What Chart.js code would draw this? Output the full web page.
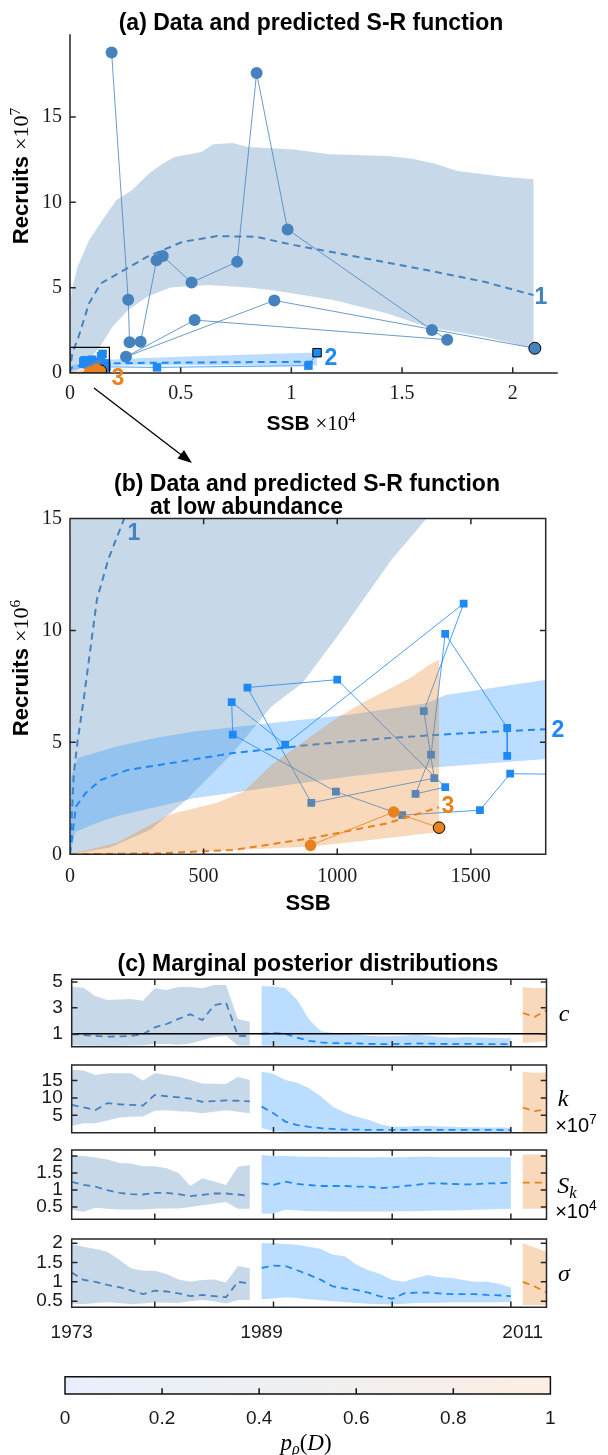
<!DOCTYPE html>
<html>
<head>
<meta charset="utf-8">
<script src="https://cdn.jsdelivr.net/npm/chart.js@4.4.1/dist/chart.umd.min.js"></script>
<style>
  body { margin: 0; background: #fff; }
  #fig { position: relative; width: 608px; height: 1455px; overflow: hidden; background: #fff; }
  #fig canvas { position: absolute; left: 0; z-index: 1; }
  #fig svg { position: absolute; left: 0; top: 0; z-index: 2; }
  .tx { position: absolute; z-index: 3; white-space: nowrap; line-height: 1; transform: translate(-50%, -50%);
        color: #000; font-family: "Liberation Sans", Arial, sans-serif; }
  .b { font-weight: bold; }
  .ser { font-family: "Liberation Serif", "DejaVu Serif", serif; font-weight: normal; }
  .it { font-style: italic; }
  .rot { transform: translate(-50%, -50%) rotate(-90deg); }
  sup { font-size: 70%; vertical-align: 0.55em; line-height: 0; }
  sub { font-size: 70%; vertical-align: -0.3em; line-height: 0; }
</style>
</head>
<body>
<div id="fig">
  <svg width="608" height="1455">
    <line x1="94" y1="388" x2="184" y2="457" stroke="#000" stroke-width="1.3"/>
    <polygon points="192,463 177.5,458.5 184,450" fill="#000"/>
  </svg>

  <div class="tx b" style="left:311px;top:22px;font-size:23px">(a) Data and predicted S-R function</div>
  <div class="tx rot" style="left:21px;top:176px;font-size:22px"><span class="b">Recruits</span> <span class="ser">×10<sup>7</sup></span></div>
  <div class="tx" style="left:311px;top:423px;font-size:21px"><span class="b">SSB</span> <span class="ser">×10<sup>4</sup></span></div>
  <div class="tx b" style="left:541px;top:296px;font-size:23px;color:#4682be">1</div>
  <div class="tx b" style="left:331px;top:357px;font-size:23px;color:#1e88f5">2</div>
  <div class="tx b" style="left:118px;top:377px;font-size:23px;color:#e8821e">3</div>

  <div class="tx b" style="left:307px;top:483px;font-size:23px">(b) Data and predicted S-R function</div>
  <div class="tx b" style="left:150px;top:506px;font-size:23px;transform:translate(0,-50%)">at low abundance</div>
  <div class="tx rot" style="left:21px;top:668px;font-size:22px"><span class="b">Recruits</span> <span class="ser">×10<sup>6</sup></span></div>
  <div class="tx b" style="left:308px;top:903px;font-size:22px">SSB</div>
  <div class="tx b" style="left:134px;top:532px;font-size:23px;color:#4682be">1</div>
  <div class="tx b" style="left:558px;top:729px;font-size:23px;color:#1e88f5">2</div>
  <div class="tx b" style="left:448px;top:805px;font-size:23px;color:#e8821e">3</div>

  <div class="tx b" style="left:308px;top:963px;font-size:23px">(c) Marginal posterior distributions</div>
  <div class="tx ser it" style="left:564px;top:1013px;font-size:24px">c</div>
  <div class="tx ser it" style="left:563px;top:1098px;font-size:24px">k</div>
  <div class="tx" style="left:576px;top:1125px;font-size:20px">×10<sup>7</sup></div>
  <div class="tx ser it" style="left:567px;top:1185px;font-size:24px">S<sub>k</sub></div>
  <div class="tx" style="left:576px;top:1211px;font-size:20px">×10<sup>4</sup></div>
  <div class="tx ser it" style="left:564px;top:1273px;font-size:24px">σ</div>
  <div class="tx ser" style="left:306px;top:1442px;font-size:23px"><span class="it">p</span><sub class="it">ρ</sub>(<span class="it">D</span>)</div>
</div>

<script>
// ---------- panels (a) and (b): SSB in tonnes, recruits in millions ----------
// regime 1 = 1973-1988, regime 2 = 1989-2010, regime 3 = 2011-2013 (first year has the black edge)
var g1SSB = [21000, 9230, 2530, 5630, 17040, 16350, 9830, 8430, 7550, 5490, 4190, 3910, 3190, 2690, 2630, 1880];
var g1Rec = [14.5, 42.5, 9.5, 31.0, 19.5, 25.2, 84.1, 175.7, 65.1, 53.0, 68.5, 66.1, 18.3, 18.0, 42.9, 187.7];
var g2SSB = [11160, 10770, 3930, 1647, 1534, 1243, 995, 609, 605, 805, 1473, 1324, 1363, 903, 664, 1000, 1404, 1293, 1351, 1404, 1636, 1636];
var g2Rec = [11.9, 4.3, 3.3, 3.6, 1.97, 1.75, 2.8, 5.35, 6.8, 4.9, 11.2, 6.4, 3.4, 2.3, 7.45, 7.8, 3.0, 2.7, 4.45, 9.85, 5.65, 4.4];
var g3SSB = [1381, 1211, 900];
var g3Rec = [1.19, 1.89, 0.40];

// predicted S-R function: median curve and credible band, per regime
var fit1SSB = [0, 14, 29, 51, 101, 144, 203, 340, 860, 1390, 2440, 3490, 5070, 6640, 8390, 10140, 12590, 16100, 18720, 20940];
var fit1Rec = [0, 3.6, 5.1, 6.9, 11.4, 13.2, 15, 19.3, 40.8, 52.5, 60.3, 68.1, 76.8, 80.2, 79.8, 74.9, 69.0, 60.3, 53.4, 45.6];
var hi1SSB = [0, 5, 30, 80, 340, 860, 1570, 2090, 2790, 3580, 4190, 4720, 5940, 6460, 7340, 8040, 10140, 11720, 14340, 15400, 16450, 17500, 19600, 20940];
var hi1Rec = [0, 20, 40, 48.6, 62.2, 77.8, 91.5, 101.2, 107, 117, 122.7, 126.6, 129.5, 134, 134.8, 132.4, 130.9, 128.1, 127.1, 125.6, 122.7, 118.4, 114.9, 113.5];
var lo1SSB = [0, 150, 300, 435, 609, 754, 870, 1000, 1203, 1334, 1920, 2620, 3490, 4540, 6290, 8040, 9090, 11900, 14340, 16100, 18720, 20940];
var lo1Rec = [0, 0.3, 1.1, 2.43, 4.52, 6.6, 7.65, 9.73, 13.16, 15, 27.1, 36.9, 44.7, 50.1, 51.5, 50.1, 48.6, 42.7, 34.9, 27.1, 21.2, 14.5];

var fit2SSB = [0, 22, 58, 116, 217, 391, 609, 899, 1189, 1479, 1783, 3000, 6000, 11160];
var fit2Rec = [0, 2.13, 2.73, 3.32, 3.77, 4.1, 4.52, 4.89, 5.19, 5.41, 5.59, 5.9, 6.2, 6.6];
var hi2SSB = [0, 5, 29, 174, 319, 464, 754, 1044, 1334, 1406, 1783, 3000, 6000, 11160];
var hi2Rec = [0, 3.5, 4.3, 4.81, 5.19, 5.48, 5.86, 6.23, 6.75, 7.12, 7.8, 8.7, 10, 12];
var lo2SSB = [0, 20, 100, 174, 464, 754, 1044, 1334, 1783, 3000, 6000, 11160];
var lo2Rec = [0, 1.0, 1.4, 1.7, 2.5, 3.0, 3.47, 3.85, 4.26, 4.5, 4.5, 4.4];

var fit3SSB = [0, 319, 609, 903, 1189, 1381];
var fit3Rec = [0, 0.04, 0.19, 0.72, 1.39, 2.1];
var hi3SSB = [0, 174, 377, 551, 650, 754, 870, 1000, 1100, 1189, 1276, 1348, 1381];
var hi3Rec = [0, 0.5, 1.8, 2.3, 2.8, 4.0, 5.0, 6.1, 6.8, 7.35, 7.9, 8.5, 8.7];
var lo3SSB = [0, 464, 903, 1100, 1381];
var lo3Rec = [0, 0.1, 0.35, 0.6, 1.0];

// axis ticks
var aTicksX = [0, 0.5, 1, 1.5, 2];          // x10^4
var aTicksY = [0, 5, 10, 15];               // x10^7
var bTicksX = [0, 500, 1000, 1500];
var bTicksY = [0, 5, 10, 15];               // x10^6
var bMaxSSB = 1780, bMaxRec = 15;           // limits of the low-abundance view

// ---------- panel (c): marginal posteriors by year ----------
var yrs1 = [1973, 1974, 1975, 1976, 1977, 1978, 1979, 1980, 1981, 1982, 1983, 1984, 1985, 1986, 1987, 1988];
var yrs2 = [1989, 1990, 1991, 1992, 1993, 1994, 1995, 1996, 1997, 1998, 1999, 2000, 2001, 2002, 2003, 2004, 2005, 2006, 2007, 2008, 2009, 2010];
var yrs3 = [2011, 2012, 2013];
var yearLabels = [1973, 1989, 2011];
var yearTicks = [1980, 1990, 2000, 2010];

// c
var cHi1 = [4.63, 4.55, 3.9, 3.6, 3.65, 3.68, 3.55, 4.5, 4.37, 4.6, 4.6, 4.5, 4.76, 4.76, 2.14, 1.93];
var cMd1 = [0.96, 0.9, 0.83, 0.77, 0.8, 0.83, 0.96, 1.5, 1.75, 2.15, 2.5, 2.05, 3.2, 3.4, 0.85, 0.8];
var cLo1 = [0.12, 0.08, 0.08, 0.06, 0.08, 0.1, 0.12, 0.2, 0.2, 0.15, 0.25, 0.5, 0.75, 0.85, 0.1, 0.1];
var cHi2 = [4.68, 4.65, 4.5, 3.6, 2.1, 1.2, 1.05, 1.0, 0.95, 0.85, 0.8, 0.8, 0.85, 0.95, 0.85, 0.75, 0.7, 0.75, 0.72, 0.7, 0.68, 0.65];
var cMd2 = [1.0, 1.05, 1.0, 0.7, 0.45, 0.33, 0.28, 0.26, 0.25, 0.22, 0.2, 0.2, 0.22, 0.25, 0.24, 0.22, 0.2, 0.22, 0.21, 0.2, 0.2, 0.2];
var cLo2 = [0.1, 0.08, 0.08, 0.07, 0.07, 0.06, 0.06, 0.06, 0.06, 0.06, 0.05, 0.05, 0.05, 0.05, 0.05, 0.05, 0.05, 0.05, 0.05, 0.05, 0.05, 0.05];
var cHi3 = [4.6, 4.5, 4.55];
var cMd3 = [2.6, 2.3, 2.8];
var cLo3 = [0.3, 0.35, 0.45];
var cRef = 1;

// k (x10^7)
var kHi1 = [18.1, 17.9, 16.6, 17.1, 17.1, 17.1, 15.0, 17.1, 16.6, 16.1, 15.2, 14.2, 14.1, 14.0, 16.1, 15.2];
var kMd1 = [8.0, 7.3, 6.5, 8.5, 8.2, 8.0, 7.8, 10.9, 10.5, 10.2, 9.8, 8.9, 9.1, 9.3, 9.2, 9.0];
var kLo1 = [1.9, 2.7, 2.7, 3.5, 4.4, 4.6, 4.7, 6.3, 6.5, 6.2, 6.0, 5.6, 6.0, 6.5, 6.0, 5.6];
var kHi2 = [17.6, 16.9, 15.2, 14.4, 12.8, 10.4, 7.5, 5.8, 4.6, 3.7, 2.4, 1.7, 1.7, 1.9, 2.0, 1.8, 1.7, 1.6, 1.6, 1.5, 1.5, 1.4];
var kMd2 = [7.5, 5.6, 3.2, 2.2, 1.7, 1.3, 1.1, 0.9, 0.9, 0.8, 0.8, 0.8, 0.8, 0.8, 0.8, 0.8, 0.8, 0.8, 0.8, 0.8, 0.8, 0.7];
var kLo2 = [1.3, 0.5, 0.3, 0.2, 0.2, 0.2, 0.2, 0.2, 0.2, 0.2, 0.2, 0.2, 0.2, 0.2, 0.2, 0.2, 0.2, 0.2, 0.2, 0.2, 0.2, 0.2];
var kHi3 = [17.6, 17.2, 17.4];
var kMd3 = [7.2, 6.2, 6.7];
var kLo3 = [0.3, 0.3, 0.3];

// S_k (x10^4)
var sHi1 = [2.0, 2.0, 1.96, 1.9, 1.8, 1.78, 1.7, 1.7, 1.64, 1.5, 1.12, 1.35, 1.25, 1.15, 1.69, 1.74];
var sMd1 = [1.24, 1.15, 1.1, 1.0, 0.92, 0.88, 0.87, 0.92, 0.92, 0.88, 0.82, 0.86, 0.9, 0.9, 0.87, 0.82];
var sLo1 = [0.42, 0.36, 0.48, 0.45, 0.43, 0.43, 0.43, 0.45, 0.46, 0.46, 0.5, 0.55, 0.6, 0.65, 0.45, 0.45];
var sHi2 = [2.03, 2.0, 2.0, 1.99, 1.98, 1.98, 1.97, 1.97, 1.97, 1.96, 1.97, 1.97, 1.97, 1.98, 1.98, 1.97, 1.97, 1.97, 1.97, 1.97, 1.97, 1.97];
var sMd2 = [1.2, 1.15, 1.25, 1.18, 1.15, 1.12, 1.12, 1.12, 1.1, 1.1, 1.06, 1.08, 1.12, 1.15, 1.2, 1.2, 1.18, 1.17, 1.17, 1.2, 1.2, 1.22];
var sLo2 = [0.31, 0.3, 0.42, 0.4, 0.38, 0.38, 0.37, 0.37, 0.37, 0.37, 0.37, 0.37, 0.38, 0.38, 0.39, 0.4, 0.4, 0.41, 0.42, 0.43, 0.44, 0.45];
var sHi3 = [2.05, 2.05, 2.05];
var sMd3 = [1.22, 1.22, 1.22];
var sLo3 = [0.45, 0.45, 0.45];

// sigma
var gHi1 = [1.98, 1.91, 1.85, 1.78, 1.57, 1.35, 1.29, 1.29, 1.2, 1.06, 1.0, 1.05, 1.06, 0.98, 1.41, 1.35];
var gMd1 = [1.24, 1.05, 1.0, 0.92, 0.86, 0.78, 0.68, 0.77, 0.75, 0.7, 0.63, 0.66, 0.63, 0.6, 1.0, 0.96];
var gLo1 = [0.44, 0.42, 0.45, 0.47, 0.45, 0.42, 0.44, 0.47, 0.46, 0.45, 0.5, 0.53, 0.5, 0.44, 0.53, 0.53];
var gHi2 = [2.0, 2.0, 1.98, 1.96, 1.91, 1.85, 1.7, 1.66, 1.44, 1.3, 1.2, 1.05, 1.0, 1.1, 1.18, 1.12, 1.1, 1.05, 1.0, 1.0, 0.95, 0.85];
var gMd2 = [1.36, 1.42, 1.41, 1.3, 1.18, 1.05, 0.88, 0.83, 0.79, 0.72, 0.62, 0.56, 0.7, 0.72, 0.72, 0.7, 0.68, 0.68, 0.68, 0.66, 0.65, 0.63];
var gLo2 = [0.55, 0.57, 0.6, 0.58, 0.55, 0.52, 0.5, 0.48, 0.45, 0.43, 0.42, 0.41, 0.43, 0.45, 0.46, 0.46, 0.47, 0.47, 0.47, 0.47, 0.47, 0.47];
var gHi3 = [2.0, 1.89, 1.78];
var gMd3 = [1.0, 0.88, 0.73];
var gLo3 = [0.4, 0.4, 0.4];

// colour bar
var cbarRange = [0, 1];
var cbarTicks = [0, 0.2, 0.4, 0.6, 0.8, 1];

// ---------- styles ----------
var C1 = '#4682be', C2 = '#1e88f5', C3 = '#e8821e';
var F1 = 'rgba(70,130,180,0.3)', F2 = 'rgba(30,144,255,0.3)', F3 = 'rgba(232,128,30,0.3)';
var cbarColors = ['#e6f0fc', '#f0f0f1', '#fdeee2'];
var serif = '"Liberation Serif", "DejaVu Serif", serif';
var sans = '"Liberation Sans", Arial, sans-serif';
var fig = document.getElementById('fig');

function pts(xs, ys, sx, sy) {
  return xs.map(function (v, i) { return {x: v / sx, y: ys[i] / sy}; });
}
// closed outline: upper edge left to right, lower edge back
function shape(xh, yh, xl, yl, sx, sy) {
  return pts(xh, yh, sx, sy).concat(pts(xl, yl, sx, sy).reverse());
}
function bandSet(data, fill) {
  return {data: data, fill: 'shape', backgroundColor: fill, borderColor: 'transparent', borderWidth: 0, pointRadius: 0};
}
function dashSet(data, color, w) {
  return {data: data, borderColor: color, borderWidth: w, borderDash: [7, 5], pointRadius: 0, fill: false};
}
function trackSet(data, color, style, r) {
  return {
    data: data, borderColor: color, borderWidth: 0.8, fill: false,
    pointStyle: style, pointRadius: r, pointBackgroundColor: color,
    pointBorderColor: data.map(function (p, i) { return i === 0 ? '#000' : color; }),
    pointBorderWidth: data.map(function (p, i) { return i === 0 ? 1 : 0; })
  };
}

// axis lines and inward tick marks, like the original figure
var framePlugin = {
  id: 'frame',
  afterDraw: function (chart, args, o) {
    var a = chart.chartArea, ctx = chart.ctx, L = o.len || 5;
    var x = chart.scales.x, y = chart.scales.y;
    ctx.save();
    ctx.strokeStyle = o.color || '#262626';
    ctx.lineWidth = o.lw || 1.5;
    ctx.lineCap = 'square';
    ctx.beginPath();
    ctx.moveTo(a.left, a.top);
    ctx.lineTo(a.left, a.bottom);
    ctx.lineTo(a.right, a.bottom);
    if (o.box) {
      ctx.lineTo(a.right, a.top);
      ctx.lineTo(a.left, a.top);
    }
    (o.xt || []).forEach(function (v) {
      var p = x.getPixelForValue(v);
      ctx.moveTo(p, a.bottom); ctx.lineTo(p, a.bottom - L);
      if (o.box && o.topTicks !== false) { ctx.moveTo(p, a.top); ctx.lineTo(p, a.top + L); }
    });
    (o.yt || []).forEach(function (v) {
      var p = y.getPixelForValue(v);
      ctx.moveTo(a.left, p); ctx.lineTo(a.left + L, p);
      if (o.box) { ctx.moveTo(a.right, p); ctx.lineTo(a.right - L, p); }
    });
    ctx.stroke();
    ctx.restore();
  }
};

function axis(min, max, ticks, font, pad, size, vertical, labels) {
  return {
    type: 'linear', min: min, max: max,
    grid: {display: false, drawTicks: false}, border: {display: false},
    ticks: {display: labels, font: font, color: '#1a1a1a', padding: pad, maxRotation: 0, autoSkip: false,
            callback: function (v) { return String(v); }},
    afterBuildTicks: function (s) { s.ticks = ticks.map(function (v) { return {value: v}; }); },
    afterFit: function (s) { if (vertical) { s.width = size; } else { s.height = size; } }
  };
}

// one canvas per panel, sized so that the plot area lands on `area`
function build(area, xh, type, data, scales, frame, extra) {
  var top = Math.floor(area.t) - 26;
  var bottom = Math.ceil(area.b + xh) + 30;
  var cv = document.createElement('canvas');
  cv.width = 608;
  cv.height = bottom - top;
  cv.style.top = top + 'px';
  fig.appendChild(cv);
  data.datasets.forEach(function (d, i) { d.order = data.datasets.length - i; });
  var options = {
    animation: false, responsive: false, events: [],
    layout: {padding: {left: 0, top: area.t - top, right: 608 - area.r, bottom: bottom - area.b - xh}},
    plugins: {legend: {display: false}, tooltip: {enabled: false}, frame: frame},
    scales: scales
  };
  Object.keys(extra || {}).forEach(function (k) { options[k] = extra[k]; });
  return new Chart(cv, {type: type, data: data, options: options, plugins: [framePlugin]});
}

// ---------- (a) ----------
var A = {l: 70, t: 35, r: 557, b: 373};
var aSx = 1e4, aSy = 10;
build(A, 40, 'line', {datasets: [
  bandSet(shape(hi1SSB, hi1Rec, lo1SSB, lo1Rec, aSx, aSy), F1),
  dashSet(pts(fit1SSB, fit1Rec, aSx, aSy), C1, 2),
  trackSet(pts(g1SSB, g1Rec, aSx, aSy), C1, 'circle', 6),
  bandSet(shape(hi2SSB, hi2Rec, lo2SSB, lo2Rec, aSx, aSy), F2),
  dashSet(pts(fit2SSB, fit2Rec, aSx, aSy), C2, 2),
  trackSet(pts(g2SSB, g2Rec, aSx, aSy), C2, 'rect', 6),
  bandSet(shape(hi3SSB, hi3Rec, lo3SSB, lo3Rec, aSx, aSy), F3),
  dashSet(pts(fit3SSB, fit3Rec, aSx, aSy), C3, 2),
  trackSet(pts(g3SSB, g3Rec, aSx, aSy), C3, 'circle', 6),
  {data: pts([0, bMaxSSB, bMaxSSB, 0, 0], [0, 0, bMaxRec, bMaxRec, 0], aSx, aSy),
   borderColor: '#000', borderWidth: 1.2, pointRadius: 0, fill: false}
]}, {
  x: axis(0, 2.2, aTicksX, {family: serif, size: 20}, 9, 40, false, true),
  y: axis(0, 19.8, aTicksY, {family: serif, size: 20}, 8, A.l, true, true)
}, {box: false, xt: aTicksX, yt: aTicksY});

// ---------- (b) ----------
var B = {l: 70, t: 518.5, r: 545.7, b: 854.3};
build(B, 40, 'line', {datasets: [
  bandSet(shape(hi1SSB, hi1Rec, lo1SSB, lo1Rec, 1, 1), F1),
  dashSet(pts(fit1SSB, fit1Rec, 1, 1), C1, 2),
  bandSet(shape(hi2SSB, hi2Rec, lo2SSB, lo2Rec, 1, 1), F2),
  dashSet(pts(fit2SSB, fit2Rec, 1, 1), C2, 2),
  trackSet(pts(g2SSB, g2Rec, 1, 1), C2, 'rect', 5.5),
  bandSet(shape(hi3SSB, hi3Rec, lo3SSB, lo3Rec, 1, 1), F3),
  dashSet(pts(fit3SSB, fit3Rec, 1, 1), C3, 2),
  trackSet(pts(g3SSB, g3Rec, 1, 1), C3, 'circle', 5.8)
]}, {
  x: axis(0, bMaxSSB, bTicksX, {family: serif, size: 20}, 10, 40, false, true),
  y: axis(0, bMaxRec, bTicksY, {family: serif, size: 20}, 8, B.l, true, true)
}, {box: true, xt: bTicksX, yt: bTicksY});

// ---------- (c) ----------
function cSets(lo1, md1, hi1, lo2, md2, hi2, lo3, md3, hi3) {
  return [
    bandSet(shape(yrs1, hi1, yrs1, lo1, 1, 1), F1), dashSet(pts(yrs1, md1, 1, 1), C1, 1.8),
    bandSet(shape(yrs2, hi2, yrs2, lo2, 1, 1), F2), dashSet(pts(yrs2, md2, 1, 1), C2, 1.8),
    bandSet(shape(yrs3, hi3, yrs3, lo3, 1, 1), F3), dashSet(pts(yrs3, md3, 1, 1), C3, 1.8)
  ];
}
var cPanels = [
  {area: {l: 71.7, t: 979.3, r: 546.5, b: 1046.7}, min: 0, max: 5.2, ticks: [1, 3, 5],
   sets: cSets(cLo1, cMd1, cHi1, cLo2, cMd2, cHi2, cLo3, cMd3, cHi3)},
  {area: {l: 71.7, t: 1065, r: 546.5, b: 1132.7}, min: 0, max: 19.5, ticks: [5, 10, 15],
   sets: cSets(kLo1, kMd1, kHi1, kLo2, kMd2, kHi2, kLo3, kMd3, kHi3)},
  {area: {l: 71.7, t: 1150, r: 546.5, b: 1219.3}, min: 0.14, max: 2.18, ticks: [0.5, 1, 1.5, 2],
   sets: cSets(sLo1, sMd1, sHi1, sLo2, sMd2, sHi2, sLo3, sMd3, sHi3)},
  {area: {l: 71.7, t: 1239, r: 546.5, b: 1307.3}, min: 0.34, max: 2.11, ticks: [0.5, 1, 1.5, 2],
   sets: cSets(gLo1, gMd1, gHi1, gLo2, gMd2, gHi2, gLo3, gMd3, gHi3)}
];
// c = 1 reference line
cPanels[0].sets.push({data: pts([yrs1[0], yrs3[yrs3.length - 1]], [cRef, cRef], 1, 1),
                      borderColor: '#000', borderWidth: 1.6, pointRadius: 0, fill: false});

cPanels.forEach(function (p, i) {
  var last = i === cPanels.length - 1;
  build(p.area, last ? 40 : 0, 'line', {datasets: p.sets}, {
    x: axis(yrs1[0], yrs3[yrs3.length - 1], last ? yearLabels : yearTicks, {family: sans, size: 19}, 14, last ? 40 : 0, false, last),
    y: axis(p.min, p.max, p.ticks, {family: sans, size: 19}, 9, p.area.l, true, true)
  }, {box: true, xt: yearTicks, yt: p.ticks});
});

// ---------- colour bar ----------
var CB = {l: 65, t: 1376.7, r: 550.4, b: 1394};
build(CB, 34, 'bar', {
  labels: ['p'],
  datasets: [{
    data: [cbarRange], barPercentage: 1, categoryPercentage: 1, borderWidth: 0, borderSkipped: false,
    backgroundColor: function (ctx) {
      var a = ctx.chart.chartArea;
      if (!a) { return 'transparent'; }
      var g = ctx.chart.ctx.createLinearGradient(a.left, 0, a.right, 0);
      cbarColors.forEach(function (c, i) { g.addColorStop(i / (cbarColors.length - 1), c); });
      return g;
    }
  }]
}, {
  x: axis(cbarRange[0], cbarRange[1], cbarTicks, {family: sans, size: 19}, 13, 34, false, true),
  y: {type: 'category', grid: {display: false, drawTicks: false}, border: {display: false},
      ticks: {display: false}, afterFit: function (s) { s.width = CB.l; }}
}, {box: true, topTicks: false, color: '#111', xt: [0.2, 0.4, 0.6, 0.8]}, {indexAxis: 'y'});
</script>
</body>
</html>
